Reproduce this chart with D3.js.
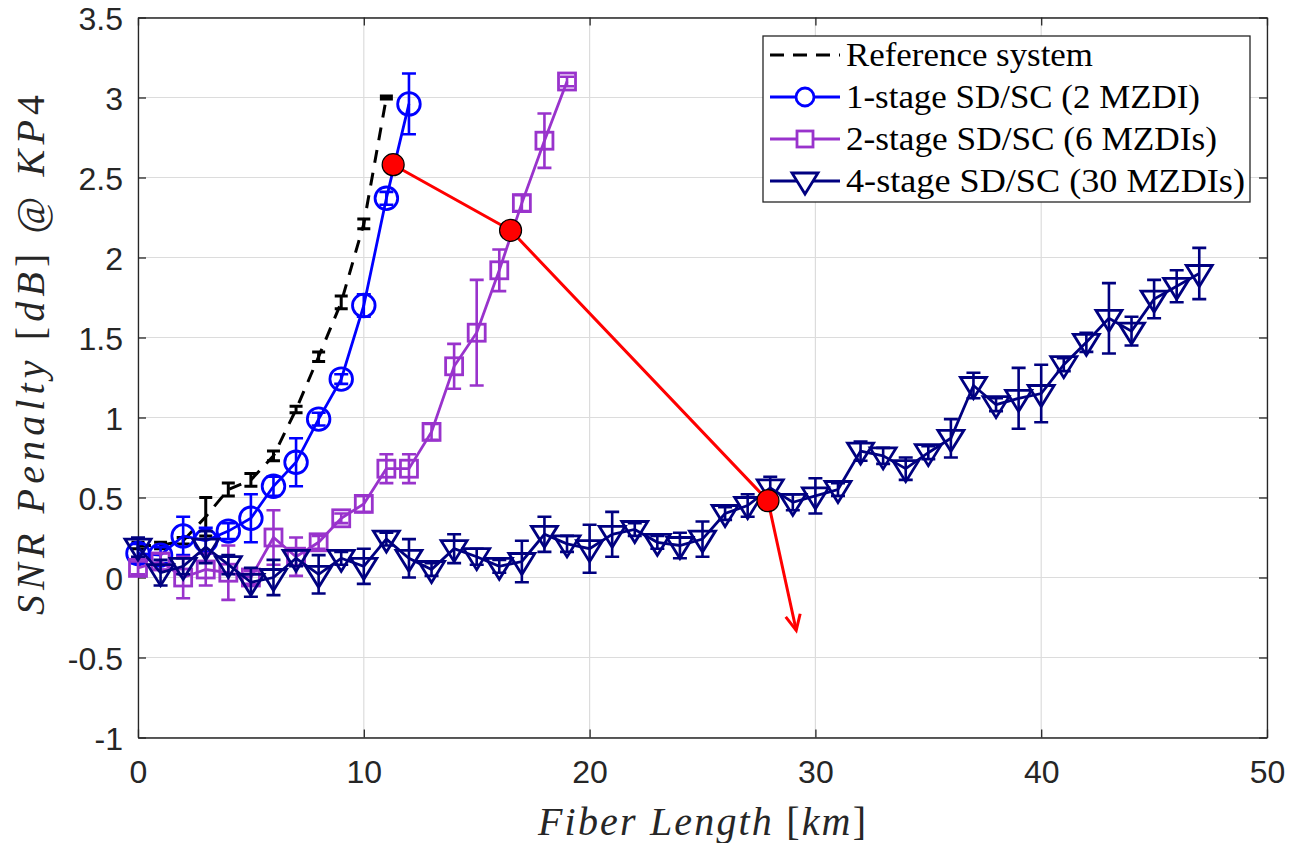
<!DOCTYPE html>
<html><head><meta charset="utf-8">
<script src="https://cdn.jsdelivr.net/npm/d3@7"></script>
<style>body{margin:0;background:#fff}</style>
</head><body>
<svg id="c" width="1291" height="843"></svg>
<script>
// ---------- data ----------
const xTicks = [0,10,20,30,40,50];
const yTicks = [-1,-0.5,0,0.5,1,1.5,2,2.5,3,3.5];
const yTickLabels = ["-1","-0.5","0","0.5","1","1.5","2","2.5","3","3.5"];

const refX = [0,1,2,3,4,5,6,7,8,9,10,11];
const refY = [0.2,0.2,0.23,0.38,0.55,0.61,0.76,1.05,1.38,1.72,2.21,3.0];
const refE = [0.02,0.02,0.02,0.12,0.04,0.04,0.03,0.02,0.03,0.04,0.03,0.01];

const s1X = [0,1,2,3,4,5,6,7,8,9,10,11,12];
const s1Y = [0.15,0.14,0.26,0.23,0.29,0.37,0.57,0.72,0.99,1.24,1.70,2.37,2.96];
const s1E = [0.06,0.05,0.12,0.08,0.05,0.15,0.06,0.15,0.04,0.03,0.07,0.04,0.19];

const s2X = [0,1,2,3,4,5,6,7,8,9,10,11,12,13,14,15,16,17,18,19];
const s2Y = [0.06,0.1,0.0,0.05,0.03,0.0,0.25,0.13,0.22,0.37,0.46,0.68,0.68,0.91,1.32,1.53,1.92,2.34,2.73,3.10];
const s2E = [0.04,0.05,0.13,0.1,0.17,0.04,0.17,0.12,0.04,0.03,0.05,0.09,0.09,0.05,0.14,0.33,0.13,0.05,0.17,0.03];

const s4X = d3.range(0,48);
const s4Y = [0.19,0.03,0.07,0.19,0.08,-0.03,0.0,0.12,0.02,0.12,0.07,0.24,0.12,0.05,0.18,0.13,0.07,0.1,0.27,0.21,
             0.18,0.27,0.3,0.22,0.2,0.24,0.4,0.45,0.56,0.47,0.51,0.55,0.79,0.76,0.68,0.78,0.87,1.2,1.08,1.12,
             1.15,1.33,1.47,1.62,1.54,1.74,1.82,1.9];
const s4E = [0.06,0.08,0.05,0.1,0.06,0.09,0.11,0.05,0.12,0.04,0.11,0.04,0.12,0.04,0.09,0.05,0.04,0.13,0.11,0.05,
             0.15,0.14,0.04,0.04,0.08,0.11,0.04,0.07,0.07,0.05,0.11,0.04,0.06,0.05,0.07,0.04,0.12,0.08,0.04,0.19,
             0.18,0.04,0.06,0.22,0.09,0.12,0.1,0.16];

const redX = [11.3,16.5,27.9];
const redY = [2.58,2.17,0.48];
const arrowTip = [29.15,-0.33];

const legendLabels = ["Reference system","1-stage SD/SC (2 MZDI)","2-stage SD/SC (6 MZDIs)","4-stage SD/SC (30 MZDIs)"];

// ---------- drawing ----------
const svg = d3.select("#c");
const L=138, R=1267, T=17.5, B=737.5;
const x = d3.scaleLinear().domain([0,50]).range([L,R]);
const y = d3.scaleLinear().domain([-1,3.5]).range([B,T]);

const cBlue="#0000ff", cPurp="#9933cc", cNavy="#000080", cRed="#ff0000";

// grid
const g = svg.append("g");
g.selectAll(".gx").data(xTicks).join("line").attr("x1",d=>x(d)).attr("x2",d=>x(d)).attr("y1",T).attr("y2",B)
  .attr("stroke","#dcdcdc").attr("stroke-width",1.2);
g.selectAll(".gy").data(yTicks).join("line").attr("y1",d=>y(d)).attr("y2",d=>y(d)).attr("x1",L).attr("x2",R)
  .attr("stroke","#dcdcdc").attr("stroke-width",1.2);

// axes
const axB = svg.append("g").attr("transform",`translate(0,${B})`)
  .call(d3.axisBottom(x).tickValues(xTicks).tickSizeInner(-8).tickSizeOuter(0).tickPadding(23));
const axL = svg.append("g").attr("transform",`translate(${L},0)`)
  .call(d3.axisLeft(y).tickValues(yTicks).tickFormat((d,i)=>yTickLabels[i]).tickSizeInner(-8).tickSizeOuter(0).tickPadding(15));
const axT = svg.append("g").attr("transform",`translate(0,${T})`)
  .call(d3.axisTop(x).tickValues(xTicks).tickSizeInner(-8).tickSizeOuter(0).tickFormat(""));
const axR = svg.append("g").attr("transform",`translate(${R},0)`)
  .call(d3.axisRight(y).tickValues(yTicks).tickSizeInner(-8).tickSizeOuter(0).tickFormat(""));
[axB,axL,axT,axR].forEach(a=>{
  a.select(".domain").attr("stroke","#262626").attr("stroke-width",1.3);
  a.selectAll(".tick line").attr("stroke","#262626").attr("stroke-width",1.3);
  a.selectAll(".tick text").attr("fill","#262626").attr("font-family","'Liberation Sans', Arial, sans-serif").attr("font-size",32);
});
axL.selectAll(".tick text").attr("dy","0.36em");

// helpers
function zip(X,Y,E){return X.map((v,i)=>({x:v,y:Y[i],e:E?E[i]:0}));}
function errorbars(data,color,cap,sw){
  const gg=svg.append("g").attr("stroke",color).attr("stroke-width",sw).attr("fill","none");
  gg.selectAll("path").data(data).join("path").attr("d",d=>{
    const px=x(d.x), y1=y(d.y+d.e), y2=y(d.y-d.e);
    return `M${px},${y1}V${y2}M${px-cap},${y1}H${px+cap}M${px-cap},${y2}H${px+cap}`;
  });
}
const line = d3.line().x(d=>x(d.x)).y(d=>y(d.y));

// reference
const refD = zip(refX,refY,refE);
errorbars(refD,"#000",6.5,3);
svg.append("path").datum(refD).attr("d",line).attr("fill","none").attr("stroke","#000").attr("stroke-width",3).attr("stroke-dasharray","13,10");

// 1-stage
const s1D = zip(s1X,s1Y,s1E);
errorbars(s1D,cBlue,7,2.6);
svg.append("path").datum(s1D).attr("d",line).attr("fill","none").attr("stroke",cBlue).attr("stroke-width",2.8);
svg.append("g").selectAll("circle").data(s1D).join("circle").attr("cx",d=>x(d.x)).attr("cy",d=>y(d.y)).attr("r",11.3)
  .attr("fill","none").attr("stroke",cBlue).attr("stroke-width",2.8);

// 2-stage
const s2D = zip(s2X,s2Y,s2E);
errorbars(s2D,cPurp,7,2.6);
svg.append("path").datum(s2D).attr("d",line).attr("fill","none").attr("stroke",cPurp).attr("stroke-width",2.8);
svg.append("g").selectAll("rect").data(s2D).join("rect").attr("x",d=>x(d.x)-8.5).attr("y",d=>y(d.y)-8.5).attr("width",17).attr("height",17)
  .attr("fill","none").attr("stroke",cPurp).attr("stroke-width",2.8);

// 4-stage
const s4D = zip(s4X,s4Y,s4E);
errorbars(s4D,cNavy,7,2.6);
svg.append("path").datum(s4D).attr("d",line).attr("fill","none").attr("stroke",cNavy).attr("stroke-width",2.8);
const tri = (cx,cy)=>`M${cx-13},${cy-8}L${cx+13},${cy-8}L${cx},${cy+13}Z`;
svg.append("g").selectAll("path").data(s4D).join("path").attr("d",d=>tri(x(d.x),y(d.y)))
  .attr("fill","none").attr("stroke",cNavy).attr("stroke-width",2.8).attr("stroke-linejoin","miter");

// red overlay
const redD = zip(redX,redY);
const redPath = redD.concat([{x:arrowTip[0],y:arrowTip[1]}]);
svg.append("path").datum(redPath).attr("d",line).attr("fill","none").attr("stroke",cRed).attr("stroke-width",3);
{
  const a=redD[redD.length-1];
  const x0=x(a.x), y0=y(a.y), x1=x(arrowTip[0]), y1=y(arrowTip[1]);
  const ang=Math.atan2(y1-y0,x1-x0), len=17, spread=0.45;
  const p1=[x1-len*Math.cos(ang-spread), y1-len*Math.sin(ang-spread)];
  const p2=[x1-len*Math.cos(ang+spread), y1-len*Math.sin(ang+spread)];
  svg.append("path").attr("d",`M${p1[0]},${p1[1]}L${x1},${y1}L${p2[0]},${p2[1]}`)
    .attr("fill","none").attr("stroke",cRed).attr("stroke-width",3);
}
svg.append("g").selectAll("circle").data(redD).join("circle").attr("cx",d=>x(d.x)).attr("cy",d=>y(d.y)).attr("r",11)
  .attr("fill",cRed).attr("stroke","#000").attr("stroke-width",1.2);

// axis labels
const serif="'Liberation Serif','Times New Roman',serif";
const xl = svg.append("text").attr("x",702).attr("y",835).attr("text-anchor","middle")
  .attr("font-family",serif).attr("font-size",40).attr("fill","#262626")
  .attr("textLength",328).attr("lengthAdjust","spacing");
xl.append("tspan").attr("font-style","italic").text("Fiber Length ");
xl.append("tspan").text("[");
xl.append("tspan").attr("font-style","italic").text("km");
xl.append("tspan").text("]");

const yl = svg.append("text").attr("transform","translate(44,355) rotate(-90)").attr("text-anchor","middle")
  .attr("font-family",serif).attr("font-size",40).attr("fill","#262626")
  .attr("textLength",520).attr("lengthAdjust","spacing");
yl.append("tspan").attr("font-style","italic").text("SNR Penalty ");
yl.append("tspan").text("[");
yl.append("tspan").attr("font-style","italic").text("dB");
yl.append("tspan").text("] @ ");
yl.append("tspan").attr("font-style","italic").text("KP");
yl.append("tspan").text("4");

// legend
const lg = svg.append("g");
lg.append("rect").attr("x",763).attr("y",36).attr("width",487).attr("height",166).attr("fill","#fff").attr("stroke","#262626").attr("stroke-width",1.3);
const rowY=[55,97,139,181];
const legColors=["#000",cBlue,cPurp,cNavy];
const legWidths=[247,354,371,399];
legendLabels.forEach((t,i)=>{
  const ly=rowY[i];
  const ln=lg.append("line").attr("x1",770).attr("x2",840).attr("y1",ly).attr("y2",ly).attr("stroke",legColors[i]).attr("stroke-width",2.8);
  if(i===0) ln.attr("stroke-dasharray","14,9").attr("stroke-width",3);
  if(i===1) lg.append("circle").attr("cx",805).attr("cy",ly).attr("r",9).attr("fill","#fff").attr("stroke",cBlue).attr("stroke-width",2.8);
  if(i===2) lg.append("rect").attr("x",797).attr("y",ly-8).attr("width",16).attr("height",16).attr("fill","#fff").attr("stroke",cPurp).attr("stroke-width",2.8);
  if(i===3) lg.append("path").attr("d",tri(805,ly)).attr("fill","#fff").attr("stroke",cNavy).attr("stroke-width",2.8);
  lg.append("text").attr("x",846).attr("y",ly+11).attr("font-family",serif).attr("font-size",33).attr("fill","#000")
    .attr("textLength",legWidths[i]).attr("lengthAdjust","spacingAndGlyphs").text(t);
});
</script>
</body></html>
